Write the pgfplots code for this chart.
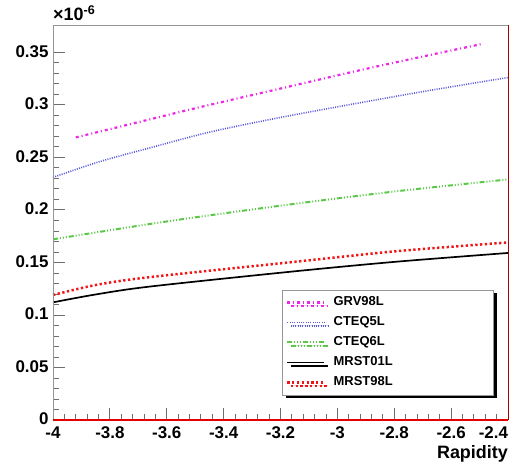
\documentclass[border=0pt]{standalone}
\usepackage{fontspec}
\setmainfont{Liberation Sans}
\usepackage{pgfplots}
\pgfplotsset{compat=1.18}
\usetikzlibrary{shadows}
\definecolor{cgrv}{RGB}{235,40,230}
\definecolor{cct5}{RGB}{90,90,220}
\definecolor{cct6}{RGB}{90,200,70}
\definecolor{cmr98}{RGB}{240,20,20}
\definecolor{framegray}{RGB}{150,150,150}
\definecolor{tickgray}{RGB}{110,110,110}
\begin{document}
\begin{tikzpicture}
\path[use as bounding box] (-53bp,-47bp) rectangle (473bp,420bp);
\begin{axis}[
  at={(0,0)}, anchor=south west,
  scale only axis, width=455bp, height=395bp,
  xmin=-4, xmax=-2.4, ymin=0, ymax=0.376,
  axis line style={draw=none},
  clip=false,
  tick align=inside,
  xtick pos=left, ytick pos=left,
  xtick={-4,-3.8,-3.6,-3.4,-3.2,-3,-2.8,-2.6,-2.4},
  xticklabels={-4,-3.8,-3.6,-3.4,-3.2,-3,-2.8,-2.6,\makebox[0pt][r]{-2.4}},
  ytick={0,0.05,0.1,0.15,0.2,0.25,0.3,0.35},
  yticklabels={0,0.05,0.1,0.15,0.2,0.25,0.3,0.35},
  minor tick num=4,
  major tick length=12bp, minor tick length=6bp,
  every tick/.style={tickgray, line width=0.8pt},
  /pgf/number format/assume math mode=true,
  ticklabel style={font=\bfseries\fontsize{17}{17}\selectfont},
  xticklabel style={anchor=north, yshift=-3bp},
  yticklabel style={anchor=east, xshift=-1bp, yshift=1bp},
  legend cell align=left,
  legend style={at={(0.503,0.33)}, anchor=north west, draw=framegray, line width=0.6pt,
    fill=white, font=\bfseries\fontsize{13}{13}\selectfont,
    drop shadow={shadow xshift=3.5bp, shadow yshift=-3.5bp, fill=black, opacity=1},
    row sep=3bp, inner sep=4bp,
    nodes={inner sep=2bp, text height=10bp, text depth=3bp},
    /tikz/every odd column/.append style={column sep=6bp}},
  legend image code/.code={\draw[#1] (0bp,0bp) -- (37bp,0bp);},
]
\addplot[cgrv, line width=2.2pt, dash pattern=on 3pt off 3pt on 1pt off 3pt, smooth] coordinates {
(-3.92,0.269) (-3.70,0.2835) (-3.48,0.298) (-3.20,0.3155) (-2.92,0.333) (-2.70,0.346) (-2.49,0.358)};
\addlegendentry{\makebox[154bp][l]{GRV98L}}
\addplot[cct5, line width=1.6pt, dash pattern=on 1pt off 1.3pt, smooth] coordinates {
(-4.00,0.231) (-3.835,0.246) (-3.66,0.259) (-3.45,0.274) (-3.20,0.288) (-2.92,0.302) (-2.68,0.3135) (-2.40,0.326)};
\addlegendentry{CTEQ5L}
\addplot[cct6, line width=2pt, dash pattern=on 5pt off 2pt on 1pt off 2pt on 1pt off 2pt on 1pt off 2pt, smooth] coordinates {
(-4.00,0.172) (-3.60,0.189) (-3.20,0.204) (-2.80,0.2175) (-2.40,0.229)};
\addlegendentry{CTEQ6L}
\addplot[black, line width=1.7pt, smooth] coordinates {
(-4.00,0.112) (-3.85,0.1195) (-3.66,0.127) (-3.17,0.141) (-2.80,0.1505) (-2.40,0.159)};
\addlegendentry{MRST01L}
\addplot[cmr98, line width=2.5pt, dash pattern=on 2.3pt off 2.5pt, smooth] coordinates {
(-4.00,0.119) (-3.85,0.1285) (-3.66,0.136) (-3.17,0.150) (-2.80,0.1605) (-2.40,0.169)};
\addlegendentry{MRST98L}
\draw[framegray, line width=0.8pt] (rel axis cs:0,0) -- (rel axis cs:0,1) -- (rel axis cs:1,1);
\draw[red!65!black, line width=0.9pt] (rel axis cs:1,1) -- (rel axis cs:1,0);
\draw[red!90!black, line width=1.4pt] (rel axis cs:0,0) -- (rel axis cs:1,0);
\node[anchor=base west, font=\bfseries\fontsize{18}{18}\selectfont, inner sep=0pt] at (rel axis cs:0,1) [yshift=4bp] {×10\textsuperscript{-6}};
\node[anchor=base east, font=\bfseries\fontsize{18}{18}\selectfont, inner sep=0pt] at (rel axis cs:1,0) [yshift=-38bp] {Rapidity};
\end{axis}
\end{tikzpicture}
\end{document}
